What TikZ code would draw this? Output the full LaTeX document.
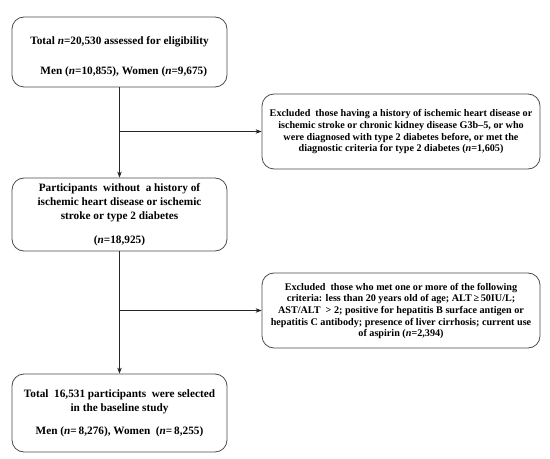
\documentclass[tikz,border=0pt]{standalone}
\usepackage{fontspec}
\setmainfont{Liberation Serif}
\usetikzlibrary{arrows.meta}
\begin{document}
\begin{tikzpicture}[x=1bp,y=-1bp,
  box/.style={draw=black!70, line width=0.8bp, rounded corners=12bp, inner sep=0pt},
  txt/.style={align=center, inner sep=0pt},
  big/.style={font=\bfseries\fontsize{11.3}{14.5}\selectfont},
  small/.style={font=\bfseries\fontsize{10.2}{11.7}\selectfont},
  arr/.style={-{Stealth[length=6bp,width=4.5bp]}, line width=0.7bp, draw=black!85}]
\useasboundingbox[fill=white] (0,0) rectangle (550,459);

\node[box, minimum width=215bp, minimum height=70bp] (b1) at (119.5,52) {};
\node[txt, big] (t1) at (119.5,57) {Total \textit{n}=20,530 assessed for eligibility\\[16bp]
\ \ \ Men (\textit{n}=10,855), Women\ (\textit{n}=9,675)};

\node[box, minimum width=278bp, minimum height=75bp] (b2) at (401,131.5) {};
\node[txt, small] (t2) at (401,132) {Excluded\ \ those having a history of ischemic heart disease or\\
ischemic stroke or chronic kidney disease G3b\textendash 5, or who\\
were diagnosed with type 2 diabetes before, or met the\\
diagnostic criteria for type 2 diabetes (\textit{n}=1,605)};

\node[box, minimum width=215bp, minimum height=73bp] (b3) at (119.5,214.5) {};
\node[txt, big] (t3) at (119.5,214.5) {Participants\ \ without\ \ a history\ of\\
ischemic\ heart disease or ischemic\\
stroke or type 2 diabetes\\[9bp]
(\textit{n}=18,925)};

\node[box, minimum width=278bp, minimum height=75bp] (b4) at (401,310.5) {};
\node[txt, small] (t4) at (401,311) {Excluded\ \ those who met one or more of the following\\
criteria: less than 20 years old of age; ALT\,≥\,50IU/L;\\
AST/ALT\ \ \textgreater\ 2; positive for hepatitis B surface antigen or\\
hepatitis C antibody; presence of liver cirrhosis; current use\\
of aspirin (\textit{n}=2,394)};

\node[box, minimum width=215bp, minimum height=78bp] (b5) at (119.5,413) {};
\node[txt, big] (t5) at (119.5,413) {Total\ \ 16,531 participants\ \ were selected\\
in the baseline study\\[8bp]
Men (\textit{n}=\,8,276), Women\ \ (\textit{n}=\,8,255)};

\coordinate (c1) at (b1.south |- b2.west);
\coordinate (c2) at (b3.south |- b4.west);
\draw[arr] (b1.south) -- (b3.north);
\draw[arr] (b3.south) -- (b5.north);
\draw[arr] (c1) -- (b2.west);
\draw[arr] (c2) -- (b4.west);
\end{tikzpicture}
\end{document}
